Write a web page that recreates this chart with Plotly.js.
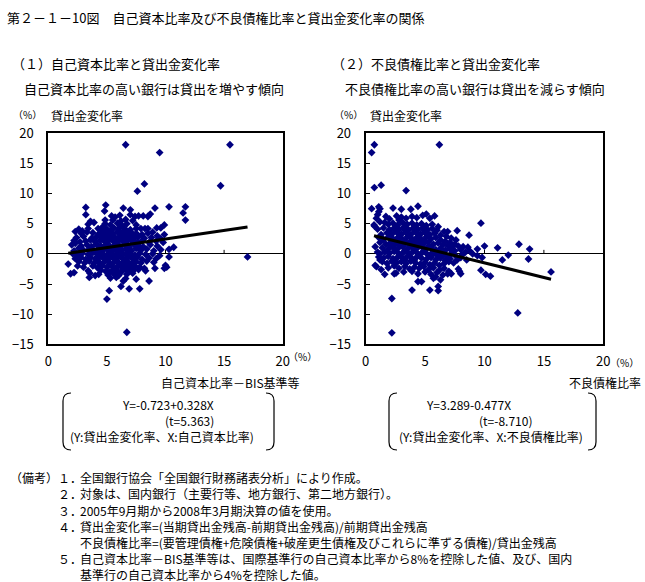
<!DOCTYPE html>
<html><head><meta charset="utf-8">
<script src="https://cdn.plot.ly/plotly-3.0.1.min.js"></script>
<style>html,body{margin:0;padding:0;background:#fff}#chart{width:645px;height:582px}</style>
</head><body><div id="chart"></div>
<script>
// Panel (1): X = capital ratio (BIS, %), Y = loan change rate (%)
const capitalRatio = [
 6.6,9.5,15.5,14.7,8.2,7.6,11.7,10.3,11.5,11.7,9.1,17.0,6.7,5.0,5.2,6.2,6.9,7.8,8.6,6.4,3.5,1.9,
 2.2,1.7,3.2,3.2,4.9,4.8,6.4,7.0,7.0,6.1,5.4,5.7,7.4,7.7,8.1,8.5,8.7,
 3.6,4.85,6.2,3.9,5.5,6.6,7.2,
 4.85,6.7,3.4,5.3,5.9,7.5,6.3,9.9,
 2.6,3.4,4.25,4.6,5.0,5.6,6.1,6.5,7.0,7.5,7.9,8.25,8.5,9.25,9.6,2.9,2.3,
 2.8,3.3,3.8,4.3,4.7,5.1,5.5,5.9,6.3,6.7,7.1,7.5,8.0,8.5,9.9,9.3,8.9,
 2.4,3.0,3.7,4.1,4.5,4.9,5.3,5.7,6.1,6.5,6.9,7.3,7.7,8.2,8.8,9.6,
 2.2,2.7,3.2,3.6,4.0,4.4,4.8,5.2,5.6,6.0,6.4,6.8,7.2,7.6,8.0,8.6,9.2,9.8,
 2.0,2.3,2.8,3.3,3.7,4.1,4.5,4.9,5.3,5.7,6.1,6.5,6.9,7.3,7.7,8.1,8.7,9.3,10.7,10.3,
 2.6,2.2,3.0,3.5,3.9,4.3,4.7,5.1,5.5,5.9,6.3,6.7,7.1,7.5,7.9,8.4,9.0,9.6,
 2.1,2.5,2.9,3.4,3.8,4.2,4.6,5.0,5.4,5.8,6.2,6.6,7.0,7.4,7.8,8.3,8.9,9.5,10.3,
 2.3,2.8,3.2,3.6,4.0,4.4,4.8,5.2,5.6,6.0,6.4,6.8,7.2,7.6,8.0,8.6,9.2,
 2.6,3.1,3.5,3.9,4.3,4.7,5.1,5.5,5.9,6.3,6.7,7.1,7.5,7.9,8.4,9.0,10.0,10.1,
 2.5,3.0,3.8,4.2,4.6,5.0,5.4,5.8,6.2,6.6,7.0,7.4,7.8,8.2,9.1,9.9,
 3.4,4.5,4.9,5.5,5.9,6.3,6.8,7.3,7.7,8.3,
 3.55,4.3,5.1,5.6,6.0,6.7,7.2,4.0,
 5.3,5.8,6.6,7.5,
 4.6,5.3,6.0,6.8,4.8,5.5,6.2,6.9,7.4,4.6,5.4,6.2,7.0,5.0,5.8,6.6,7.4,4.7,5.5,6.1,6.9,7.6,
 5.2,6.0,6.8,4.4,4.6,5.4,6.2,7.0,5.0,5.8,6.6,7.4,5.3,6.1,6.9,4.5,5.7,6.5,5.2,6.2
];
const loanChangeA = [
 18.1,16.8,18.1,11.3,11.6,10.4,7.8,7.8,6.8,5.6,7.6,-0.5,-13.0,-7.5,-6.1,-5.4,-5.8,-5.8,-4.5,-4.5,-3.9,-3.3,
 -3.1,-1.7,7.7,6.5,8.1,7.1,7.6,7.3,6.5,6.4,6.3,6.1,6.2,6.3,6.3,6.2,6.6,
 5.4,5.6,5.45,5.2,5.6,5.7,5.5,
 5.0,5.0,4.9,4.8,5.1,4.8,4.7,4.8,
 4.1,4.2,4.2,4.4,4.1,4.3,4.4,4.2,4.0,4.2,4.2,4.2,4.2,4.3,4.3,3.8,3.7,
 3.4,3.6,3.5,3.3,3.6,3.5,3.4,3.6,3.5,3.3,3.5,3.4,3.2,3.4,3.2,3.0,3.6,
 2.7,2.9,2.6,2.8,2.9,2.7,2.9,2.7,2.9,2.7,2.8,2.6,2.9,2.6,2.7,2.5,
 2.2,2.0,2.1,2.3,2.0,2.2,2.1,2.3,2.0,2.2,2.0,2.3,2.1,2.0,2.2,1.9,2.1,1.9,
 1.5,1.75,1.3,1.5,1.2,1.6,1.3,1.5,1.2,1.6,1.3,1.5,1.2,1.6,1.4,1.2,1.5,1.3,1.1,0.75,
 0.95,0.5,0.6,0.8,0.5,0.9,0.6,0.8,0.5,0.9,0.6,0.8,0.5,0.9,0.6,0.8,0.5,0.7,
 0.0,-0.2,0.1,-0.1,0.2,-0.1,0.1,-0.2,0.1,-0.1,0.2,-0.1,0.1,-0.2,0.1,-0.1,0.0,-0.3,-0.5,
 -0.8,-0.6,-0.9,-0.6,-0.8,-0.5,-0.9,-0.6,-0.8,-0.5,-0.9,-0.6,-0.8,-0.5,-0.9,-0.7,-0.8,
 -1.3,-1.5,-1.2,-1.6,-1.3,-1.5,-1.2,-1.6,-1.3,-1.5,-1.2,-1.6,-1.3,-1.5,-1.2,-1.4,-1.9,-2.2,
 -2.0,-2.2,-2.0,-2.3,-2.0,-2.2,-2.0,-2.3,-2.1,-2.0,-2.3,-2.0,-2.2,-2.4,-2.4,-2.4,
 -2.8,-2.7,-2.9,-2.7,-2.9,-2.7,-2.9,-2.7,-2.6,-2.8,
 -3.2,-3.4,-3.5,-3.3,-3.6,-3.4,-3.2,-3.6,
 -4.0,-3.9,-4.1,-4.2,
 3.9,3.8,3.9,3.7,3.1,3.1,3.2,3.1,3.0,2.4,2.5,2.5,2.4,1.8,1.8,1.8,1.8,1.0,0.9,1.0,1.0,1.0,
 0.3,0.4,0.4,0.4,-0.4,-0.4,-0.3,-0.4,-1.0,-1.1,-1.0,-1.0,-1.8,-1.8,-1.7,-1.8,-2.5,-2.5,-3.0,-3.1
];
// Panel (2): X = non-performing loan ratio (%), Y = loan change rate (%)
const nplRatio = [
 0.73,0.5,6.2,0.73,1.3,3.4,0.5,1.1,1.2,1.1,1.0,0.9,0.7,0.75,2.3,3.0,3.8,4.4,5.4,5.8,7.7,8.7,9.7,10.0,9.4,
 11.1,12.0,11.5,12.9,13.8,13.7,15.6,12.8,2.2,2.2,3.9,5.4,6.1,6.1,4.4,9.7,10.1,10.5,0.8,1.3,1.6,2.4,7.2,8.0,
 1.7,2.0,2.6,3.0,3.4,3.9,4.3,4.8,5.1,2.8,1.6,
 1.2,1.9,2.3,2.7,3.1,3.5,3.9,4.3,4.7,5.1,5.6,6.1,6.6,6.9,
 1.0,1.5,2.0,2.4,2.8,3.2,3.6,4.0,4.4,4.8,5.2,5.6,6.0,5.0,
 1.3,1.8,2.2,2.6,3.0,3.4,3.8,4.2,4.6,5.0,5.4,5.8,6.3,6.8,7.2,7.6,
 1.1,1.5,1.9,2.3,2.7,3.1,3.5,3.9,4.3,4.7,5.1,5.5,5.9,6.3,6.7,7.1,7.5,
 0.8,1.2,1.7,2.1,2.5,2.9,3.3,3.7,4.1,4.5,4.9,5.3,5.7,6.1,6.5,6.9,7.3,7.8,8.2,8.6,
 1.0,1.4,1.9,2.3,2.7,3.1,3.5,3.9,4.3,4.7,5.1,5.5,5.9,6.3,6.7,7.1,7.5,8.0,8.4,8.8,
 1.2,1.6,2.0,2.4,2.8,3.2,3.6,4.0,4.4,4.8,5.2,5.6,6.0,6.4,6.8,7.2,7.6,8.1,9.0,9.4,
 1.1,1.5,1.9,2.3,2.7,3.1,3.5,3.9,4.3,4.7,5.1,5.5,5.9,6.3,6.7,7.1,7.7,8.0,8.5,9.8,
 1.4,1.8,2.2,2.6,3.0,3.4,3.8,4.2,4.6,5.0,5.4,5.8,6.2,6.6,7.0,7.4,
 0.9,1.9,2.4,2.8,3.3,3.7,4.1,4.5,4.9,5.3,5.7,6.2,6.6,7.0,7.8,7.9,
 1.2,2.55,3.2,3.9,4.4,5.0,5.5,6.0,6.5,6.9,
 5.7,5.9,6.3,4.7,
 2.5,3.3,4.1,4.9,2.1,2.9,3.7,4.5,5.3,2.5,3.3,4.1,4.9,2.1,2.9,3.7,4.5,5.3,2.5,3.3,4.1,4.9,2.9,3.7,4.5,3.3,4.1,2.5,5.7,6.5
];
const loanChangeB = [
 18.1,16.8,18.1,11.0,11.4,10.5,7.5,7.8,7.5,7.0,6.5,5.9,4.8,4.6,7.6,7.4,7.4,7.9,5.9,6.3,3.85,3.1,5.1,1.3,0.8,
 1.0,-0.2,-1.0,1.6,0.8,-0.85,-3.0,-9.8,-7.4,-13.1,-6.0,-6.0,-5.4,-6.1,-4.6,-2.7,-3.4,-3.7,-1.9,-2.6,-3.4,-3.3,-3.3,-3.3,
 6.2,5.8,6.3,6.1,5.9,6.2,6.0,6.4,6.6,5.6,5.2,
 5.3,4.9,5.1,4.8,5.2,4.9,5.1,4.8,5.0,4.7,4.9,4.5,3.7,3.7,
 4.1,4.3,4.0,4.3,4.1,4.4,4.0,4.3,4.1,4.3,4.0,4.2,3.9,3.6,
 3.2,3.5,3.3,3.6,3.3,3.5,3.2,3.6,3.3,3.5,3.2,3.4,3.1,2.9,2.6,2.3,
 2.7,2.4,2.8,2.5,2.7,2.4,2.8,2.5,2.7,2.4,2.8,2.5,2.7,2.3,2.1,1.9,1.6,
 1.2,1.9,1.6,1.9,1.7,2.0,1.7,1.9,1.6,1.9,1.7,2.0,1.6,1.8,1.5,1.4,1.2,1.3,1.2,1.1,
 0.3,1.0,0.8,1.1,0.9,1.2,0.8,1.1,0.9,1.2,0.8,1.0,0.7,0.9,0.6,0.8,0.5,0.7,0.3,0.4,
 0.0,0.3,0.1,0.4,0.0,0.3,0.1,0.4,0.0,0.3,-0.1,0.2,-0.2,0.1,-0.3,0.0,-0.4,-0.2,0.0,-0.3,
 -0.5,-0.7,-0.4,-0.8,-0.5,-0.7,-0.4,-0.8,-0.5,-0.7,-0.9,-0.6,-1.0,-0.7,-1.1,-0.8,-1.0,-0.6,-1.0,-0.6,
 -1.3,-1.6,-1.2,-1.5,-1.3,-1.6,-1.2,-1.5,-1.7,-1.4,-1.8,-1.5,-1.9,-1.6,-1.3,-1.5,
 -2.1,-2.3,-2.0,-2.4,-2.1,-2.5,-2.2,-2.4,-2.1,-2.6,-2.3,-2.7,-2.4,-2.9,-2.5,-2.9,
 -1.0,-3.2,-3.0,-2.9,-3.3,-3.0,-3.4,-3.1,-3.5,-3.3,
 -4.05,-3.8,-4.3,-4.6,
 3.9,3.9,3.8,3.9,3.0,3.0,2.9,3.0,3.0,2.2,2.1,2.2,2.1,1.3,1.4,1.3,1.4,1.3,0.6,0.5,0.6,0.5,-0.2,-0.2,-0.2,-1.0,-1.0,-1.0,0.0,-0.3
];
// Regression lines (endpoints)
const trendAX = [1.7, 17.0], trendAY = [0.1, 4.45];
const trendBX = [0.7, 15.6], trendBY = [3.0, -4.2];
const xTickVals = [0, 5, 10, 15, 20];
const xTickText = ['0', '5', '10', '15', '20'];
const yTickVals = [-15, -10, -5, 0, 5, 10, 15, 20];
const zeroTickVals = [5, 10, 15];

const titleText = '第２－１－10図　自己資本比率及び不良債権比率と貸出金変化率の関係';
const panelTitles = ['（１）自己資本比率と貸出金変化率', '（２）不良債権比率と貸出金変化率'];
const panelSubs = ['自己資本比率の高い銀行は貸出を増やす傾向', '不良債権比率の高い銀行は貸出を減らす傾向'];
const xTitles = ['自己資本比率－BIS基準等', '不良債権比率'];
const eqLines = [
  ['Y=-0.723+0.328X', '(t=5.363)', '(Y:貸出金変化率、X:自己資本比率)'],
  ['Y=3.289-0.477X', '(t=-8.710)', '(Y:貸出金変化率、X:不良債権比率)']
];
const noteNums = ['１．', '２．', '３．', '４．', '', '５．', ''];
const noteTexts = [
  '全国銀行協会「全国銀行財務諸表分析」により作成。',
  '対象は、国内銀行（主要行等、地方銀行、第二地方銀行）。',
  '2005年9月期から2008年3月期決算の値を使用。',
  '貸出金変化率=(当期貸出金残高-前期貸出金残高)/前期貸出金残高',
  '不良債権比率=(要管理債権+危険債権+破産更生債権及びこれらに準ずる債権)/貸出金残高',
  '自己資本比率－BIS基準等は、国際基準行の自己資本比率から8%を控除した値、及び、国内',
  '基準行の自己資本比率から4%を控除した値。'
];

const W = 645, H = 582;
const FONT = '"Noto Sans CJK JP", "Noto Sans", sans-serif';
const NAVY = '#000080';
const px = x => x / W, py = y => 1 - y / H;

function ann(text, x, y, size, xanchor) {
  return {text: text, x: px(x), y: py(y), xref: 'paper', yref: 'paper',
    xanchor: xanchor || 'left', yanchor: 'middle', showarrow: false,
    font: {family: FONT, size: size, color: '#000'}};
}

const traces = [
  {type: 'scatter', mode: 'markers', x: capitalRatio, y: loanChangeA, xaxis: 'x', yaxis: 'y',
   marker: {symbol: 'diamond', size: 6, color: NAVY}, hoverinfo: 'skip'},
  {type: 'scatter', mode: 'lines', x: trendAX, y: trendAY, xaxis: 'x', yaxis: 'y',
   line: {color: '#000', width: 3}, hoverinfo: 'skip'},
  {type: 'scatter', mode: 'markers', x: nplRatio, y: loanChangeB, xaxis: 'x2', yaxis: 'y2',
   marker: {symbol: 'diamond', size: 6, color: NAVY}, hoverinfo: 'skip'},
  {type: 'scatter', mode: 'lines', x: trendBX, y: trendBY, xaxis: 'x2', yaxis: 'y2',
   line: {color: '#000', width: 3}, hoverinfo: 'skip'}
];

function xAxis(domain, anchor) {
  return {domain: domain, anchor: anchor, range: [0, 20], tickvals: xTickVals, ticktext: xTickText,
    ticks: '', showline: true, mirror: true, linecolor: '#000', linewidth: 2,
    showgrid: false, zeroline: false, fixedrange: true, ticklabelstandoff: 4,
    tickfont: {family: FONT, size: 13, color: '#000'}};
}
function yAxis(domain, anchor) {
  return {domain: domain, anchor: anchor, range: [-15, 20], tickvals: yTickVals,
    ticks: 'inside', ticklen: 4, tickwidth: 1, tickcolor: '#000',
    showline: true, mirror: true, linecolor: '#000', linewidth: 2,
    showgrid: false, zeroline: true, zerolinecolor: '#000', zerolinewidth: 1,
    fixedrange: true, ticklabelstandoff: 10,
    tickfont: {family: FONT, size: 13, color: '#000'}};
}

const yDom = [py(344.3), py(133.3)];
const shapes = [];
[['x', 'y'], ['x2', 'y2']].forEach(([xr, yr]) => {
  zeroTickVals.forEach(v => shapes.push({type: 'line', xref: xr, yref: yr, x0: v, x1: v,
    ysizemode: 'pixel', yanchor: 0, y0: 0, y1: 4, line: {color: '#000', width: 1}, layer: 'below'}));
});
function bracket(xLine, xEnd, yTop, yBot) {
  const r = 8;
  const P = (x, y) => px(x).toFixed(5) + ',' + py(y).toFixed(5);
  return {type: 'path', xref: 'paper', yref: 'paper', line: {color: '#000', width: 1.2},
    path: 'M' + P(xEnd, yTop) + ' Q' + P(xLine, yTop) + ' ' + P(xLine, yTop + r) +
          ' L' + P(xLine, yBot - r) + ' Q' + P(xLine, yBot) + ' ' + P(xEnd, yBot)};
}
shapes.push(bracket(63, 71, 393, 450), bracket(274, 266, 393, 450),
            bracket(389, 397, 393, 450), bracket(596, 588, 393, 450));

const annotations = [
  ann(titleText, 5, 17, 13),
  ann(panelTitles[0], 10, 63, 13), ann(panelTitles[1], 330, 63, 13),
  ann(panelSubs[0], 22, 88, 13), ann(panelSubs[1], 343, 88, 13),
  ann('（%）', 11, 115, 10), ann('貸出金変化率', 49, 116, 12),
  ann('（%）', 332, 115, 10), ann('貸出金変化率', 368, 116, 12),
  ann('（%）', 286, 356, 10), ann('（%）', 608, 362, 10),
  ann(xTitles[0], 159, 382, 12), ann(xTitles[1], 567, 382, 12),
  ann(eqLines[0][0], 120, 404, 12), ann(eqLines[0][1], 163, 420, 12), ann(eqLines[0][2], 68, 436, 12),
  ann(eqLines[1][0], 424, 404, 12), ann(eqLines[1][1], 477, 420, 12), ann(eqLines[1][2], 397, 436, 12),
  ann('（備考）', 8, 477, 12)
];
const noteY = [477, 493, 510, 526, 542, 558, 574];
noteTexts.forEach((t, i) => {
  if (noteNums[i]) annotations.push(ann(noteNums[i], 56, noteY[i], 12));
  annotations.push(ann(t, 78, noteY[i], 12));
});

const layout = {
  width: W, height: H, margin: {l: 0, r: 0, t: 0, b: 0},
  paper_bgcolor: '#fff', plot_bgcolor: '#fff', showlegend: false,
  font: {family: FONT, color: '#000'},
  xaxis: xAxis([px(48.3), px(282.7)], 'y'),
  yaxis: yAxis(yDom, 'x'),
  xaxis2: xAxis([px(365.7), px(603.3)], 'y2'),
  yaxis2: yAxis(yDom, 'x2'),
  shapes: shapes, annotations: annotations
};
Plotly.newPlot('chart', traces, layout, {staticPlot: true, displayModeBar: false});
</script></body></html>
